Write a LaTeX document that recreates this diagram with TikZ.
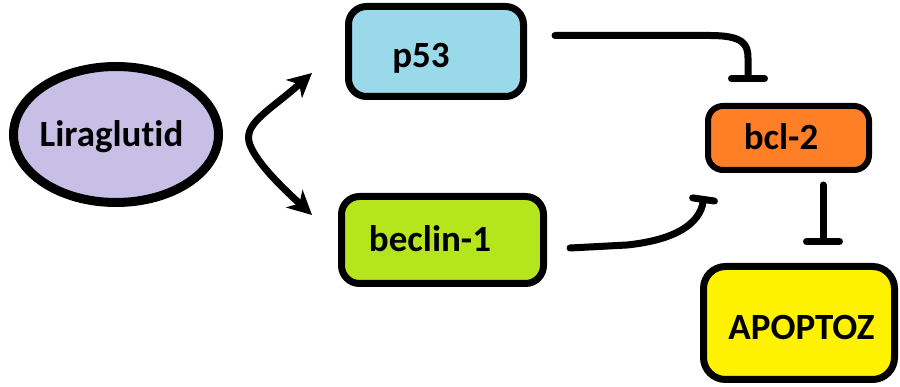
\documentclass[tikz,border=0pt]{standalone}
\usepackage{fontspec}
\setmainfont{Carlito}[Ligatures=NoCommon]
\usetikzlibrary{arrows.meta,shapes.geometric,calc}
\definecolor{lav}{HTML}{C8BFE7}
\definecolor{turq}{HTML}{99D9EA}
\definecolor{lime}{HTML}{B5E61D}
\definecolor{orng}{HTML}{FF7F27}
\definecolor{yel}{HTML}{FFF200}
\tikzset{
  box/.style={draw=black, line width=7pt, rounded corners=18pt, inner sep=0pt},
  txt/.style={anchor=base, inner sep=0pt, font=\fontsize{37}{40}\selectfont\bfseries},
  conn/.style={line width=7pt, line cap=round},
  inhib/.style={conn, -{Bar[width=33pt,line width=7pt,round]}},
  act/.style={conn, {Stealth[length=24pt,width=24pt,inset=7pt]}-{Stealth[length=24pt,width=24pt,inset=7pt]}},
}
\begin{document}
\begin{tikzpicture}[x=1pt,y=-1pt]
\useasboundingbox (0,0) rectangle (900,387);
\node[ellipse, draw=black, line width=9pt, fill=lav, minimum width=205pt, minimum height=136pt, inner sep=0pt] (lira) at (116,134.5) {};
\node[box, fill=turq, minimum width=175pt, minimum height=90pt] (p53) at (436,51.5) {};
\node[box, fill=lime, minimum width=202pt, minimum height=87pt] (bec) at (442.5,240) {};
\node[box, fill=orng, minimum width=161pt, minimum height=64pt, line width=6pt, rounded corners=15pt] (bcl) at (788.5,138) {};
\node[box, fill=yel, minimum width=191pt, minimum height=113pt, rounded corners=22pt] (apo) at (799,323) {};
\node[txt] (liraT) at ($(lira.center)+(-4.5,12.5)$) {Liraglutid};
\node[txt] (p53T) at ($(p53.center)+(-15,16.5)$) {p53};
\node[txt] (becT) at ($(bec.center)+(-12.5,12)$) {beclin-1};
\node[txt] (bclT) at ($(bcl.center)+(-7.5,12)$) {bcl-2};
\node[txt] (apoT) at ($(apo.center)+(2.5,17)$) {APOPTOZ};
% double arrow between p53 and beclin-1
\coordinate (a1) at ($(p53.center)+(-124,21.5)$);
\coordinate (a2) at ($(bec.center)+(-130.5,-25)$);
\draw[act] (a1) .. controls (268,112) and (242,124) .. (250,145) .. controls (258,165) and (285,190) .. (a2);
% p53 -| bcl-2
\coordinate (p1) at ($(p53.center)+(119,-16)$);
\coordinate (p2) at ($(bcl.center)+(-40.5,-56)$);
\draw[inhib] (p1) -- ($(p1)+(155,0)$) .. controls ($(p1)+(188,0)$) and ($(p2)+(0,-38)$) .. ($(p2)+(0,-24)$) -- (p2);
% beclin-1 -> bcl-2
\coordinate (b1) at ($(bec.center)+(127.5,8)$);
\coordinate (b2) at ($(bcl.center)+(-84.5,58)$);
\draw[conn, -{Bar[width=22pt,line width=7pt,round]}] (b1) -- ($(b1)+(57,-3)$) .. controls ($(b1)+(105,-8)$) and ($(b2)+(-4,28)$) .. (b2);
% bcl-2 -| APOPTOZ
\coordinate (c1) at ($(bcl.center)+(34.5,47)$);
\coordinate (c2) at ($(apo.center)+(24,-78)$);
\draw[inhib] (c1) -- (c2);
\end{tikzpicture}
\end{document}
